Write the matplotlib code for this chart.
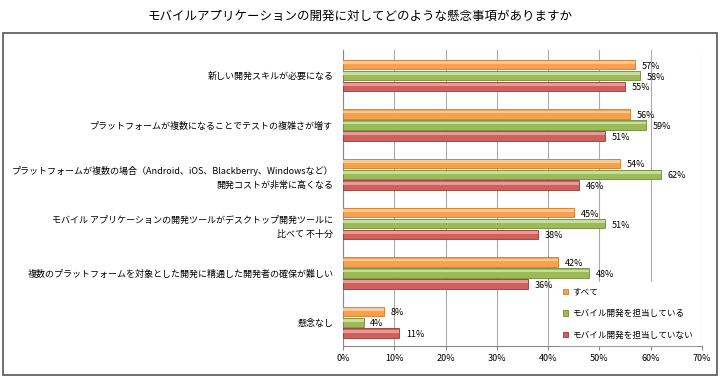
import matplotlib.pyplot as plt
import numpy as np
from matplotlib.patches import Rectangle

plt.rcParams['font.family'] = ['Noto Sans CJK JP', 'DejaVu Sans']

title = 'モバイルアプリケーションの開発に対してどのような懸念事項がありますか'
categories = [
    '新しい開発スキルが必要になる',
    'プラットフォームが複数になることでテストの複雑さが増す',
    'プラットフォームが複数の場合（Android、iOS、Blackberry、Windowsなど）\n開発コストが非常に高くなる',
    'モバイル アプリケーションの開発ツールがデスクトップ開発ツールに\n比べて 不十分',
    '複数のプラットフォームを対象とした開発に精通した開発者の確保が難しい',
    '懸念なし',
]
series_names = ['すべて', 'モバイル開発を担当している', 'モバイル開発を担当していない']
all_vals = [57, 56, 54, 45, 42, 8]
mobile_vals = [58, 59, 62, 51, 48, 4]
non_mobile_vals = [55, 51, 46, 38, 36, 11]
xticks = [0, 10, 20, 30, 40, 50, 60, 70]

face_colors = ['#F9A04E', '#9BBB59', '#D0605C']
edge_colors = ['#D9761E', '#6F8A36', '#973834']
hi_colors = ['#FCCB94', '#C9DD9A', '#E99A97']

fig = plt.figure(figsize=(7.2, 3.78), dpi=100)
fig.patches.append(Rectangle((3 / 720, 3 / 378), 714 / 720, 342 / 378,
                             transform=fig.transFigure, fill=False,
                             edgecolor='#555555', linewidth=1.2))
fig.text(0.5, 1 - 16 / 378, title, ha='center', va='center', fontsize=9)

ax = fig.add_axes([343 / 720, 1 - 346 / 378, 359 / 720, 296 / 378])
y = np.arange(len(categories)) + 0.52
offsets = [-0.22, 0.0, 0.22]
bh = 0.19
for vals, off, fc, ec, hc, name in zip(
        [all_vals, mobile_vals, non_mobile_vals], offsets,
        face_colors, edge_colors, hi_colors, series_names):
    ax.barh(y + off, vals, height=bh, color=fc, edgecolor=ec,
            linewidth=0.6, label=name, zorder=3)
    # highlight strip for the bevelled look
    ax.barh(y + off - bh * 0.22, vals, height=bh * 0.3, color=hc,
            linewidth=0, zorder=4)
    for yy, v in zip(y + off, vals):
        ax.text(v + 1.3, yy + 0.03, f'{v}%', va='center', ha='left',
                fontsize=6.5, zorder=7)

ax.set_xlim(0, 70)
ax.set_ylim(6, 0)
ax.set_xticks(xticks)
ax.set_xticklabels([f'{t}%' for t in xticks], fontsize=6.5)
ax.set_yticks(y)
ax.set_yticklabels(categories, fontsize=6.5, ha='right',
                   multialignment='right', linespacing=1.7)
ax.tick_params(axis='y', length=0, pad=7)
ax.tick_params(axis='x', length=3, color='#888888', pad=3)
ax.grid(axis='x', color='#AAAAAA', linewidth=0.8, zorder=0)
for s in ['top', 'right']:
    ax.spines[s].set_visible(False)
for s in ['left', 'bottom']:
    ax.spines[s].set_color('#888888')
    ax.spines[s].set_linewidth(0.8)

handles, labels = ax.get_legend_handles_labels()
leg = ax.legend(handles, labels, loc='lower right', bbox_to_anchor=(1.0, -0.01),
                fontsize=6.2, frameon=True, framealpha=1, edgecolor='white',
                handlelength=0.6, handleheight=0.6, labelspacing=1.45,
                handletextpad=0.4, borderpad=0.6)
leg.set_zorder(6)

fig.savefig('out.png', dpi=100)
